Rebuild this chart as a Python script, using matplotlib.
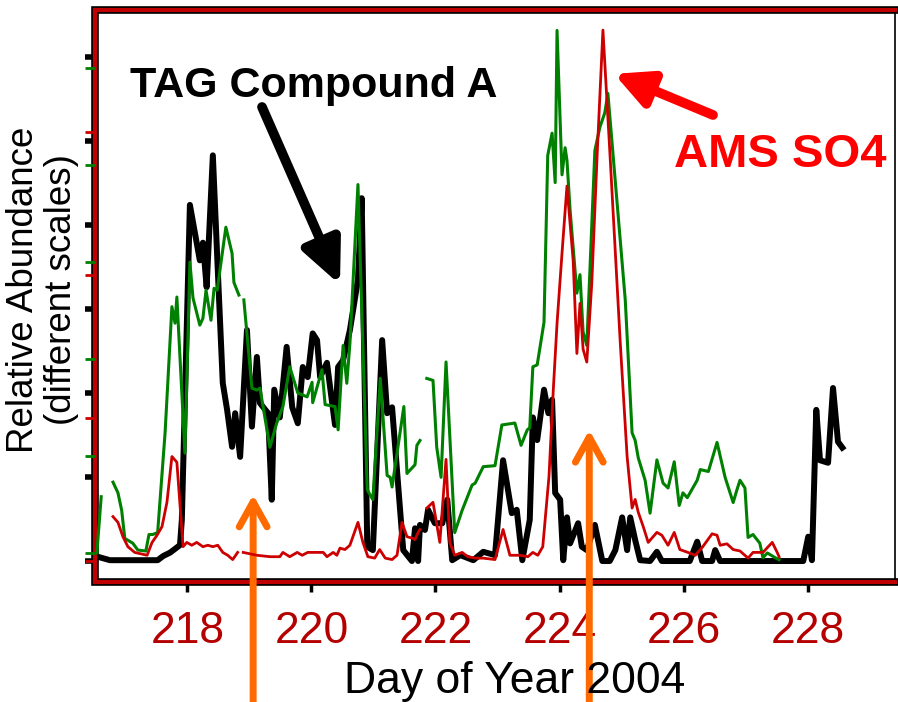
import matplotlib.pyplot as plt
import numpy as np

plt.rcParams['font.family'] = ['Liberation Sans', 'DejaVu Sans']

nan = np.nan

# TAG Compound A (black) - day of year and relative abundance
tag_day = [216.56, 216.75, 217.52, 217.61, 217.72, 217.81, 217.88, 217.91, 218.04, 218.20,
           218.25, 218.31, 218.41, 218.49, 218.57, 218.64, 218.72, 218.77, 218.85, 218.96,
           219.04, 219.12, 219.17, 219.30, 219.36, 219.40, 219.49, 219.60, 219.69, 219.78,
           219.86, 219.94, 220.02, 220.09, 220.14, 220.25, 220.38, 220.43, 220.51, 220.62,
           220.75, 220.81, 220.90, 220.99, 221.14, 221.22, 221.30, 221.48, 221.62, 221.67,
           221.72, 221.75, 221.83, 221.88, 221.99, 222.11, 222.19, 222.27, 222.40, 222.61,
           222.77, 222.96, 223.09, 223.23, 223.31, 223.40, 223.52, 223.57, 223.64, 223.75,
           223.82, 223.88, 223.93, 224.01, 224.06, 224.12, 224.17, 224.30, 224.36, 224.44,
           224.57, 224.69, 224.81, 224.90, 225.01, 225.09, 225.14, 225.22, 225.30, 225.46,
           225.57, 225.65, 226.10, 226.22, 226.30, 226.46, 226.51, 226.59, 227.93, 228.01,
           228.07, 228.14, 228.20, 228.33, 228.41, 228.49, 228.56]
tag_val = [0.05, 0.01, 0.01, 0.06, 0.10, 0.15, 0.19, 0.49, 4.24, 3.58,
           3.79, 3.26, 4.83, 3.46, 2.12, 1.80, 1.36, 1.76, 1.24, 2.75,
           1.60, 2.43, 1.88, 1.76, 0.73, 2.04, 1.71, 2.55, 1.83, 1.64,
           2.31, 2.19, 2.71, 2.63, 2.19, 2.36, 1.62, 2.31, 2.39, 2.75,
           3.35, 4.32, 0.17, 0.13, 2.63, 1.76, 1.83, 0.13, 0.00, 0.39,
           0.00, 0.43, 0.37, 0.61, 0.45, 0.45, 0.73, 0.01, 0.07, 0.01,
           0.11, 0.07, 1.20, 0.57, 0.61, 0.01, 0.49, 1.71, 1.44, 2.04,
           1.76, 1.92, 0.81, 0.73, 0.01, 0.52, 0.21, 0.45, 0.17, 0.13,
           0.43, 0.00, 0.00, 0.13, 0.52, 0.13, 0.52, 0.25, 0.01, 0.00,
           0.11, 0.00, 0.00, 0.23, 0.00, 0.00, 0.13, 0.00, 0.00, 0.29,
           0.01, 1.80, 1.20, 1.17, 2.06, 1.42, 1.35]

# green series
grn_day = [216.54, 216.61, nan, 216.80, 216.88, 216.94, 216.99, 217.12, 217.20, 217.33,
           217.38, 217.44, 217.52, 217.64, 217.75, 217.80, 217.83, 217.96, 218.04, 218.09,
           218.20, 218.25, 218.30, 218.38, 218.43, 218.48, 218.62, 218.72, 218.75, 218.83,
           nan, 218.91, 219.04, 219.12, 219.17, 219.33, 219.44, 219.54, 219.65, 219.78,
           219.93, 220.01, 220.02, 220.17, 220.22, 220.38, 220.43, 220.51, 220.57, 220.62,
           220.75, 220.90, 220.99, 221.11, 221.22, 221.27, 221.30, 221.49, 221.54, 221.67,
           221.70, 221.75, nan, 221.86, 221.96, 222.02, 222.09, 222.17, 222.31, 222.43,
           222.59, 222.64, 222.77, 222.96, 223.07, 223.28, 223.38, 223.48, 223.52, 223.57,
           223.64, 223.75, 223.81, 223.88, 223.93, 223.96, 224.04, 224.09, 224.12, 224.17,
           224.28, 224.33, 224.38, 224.44, 224.57, 224.65, 224.73, 224.78, 225.06, 225.17,
           225.22, 225.27, 225.38, 225.46, 225.57, 225.67, 225.75, 225.85, 225.93, 225.99,
           226.06, 226.22, 226.27, 226.40, 226.54, 226.67, 226.80, 226.86, 226.91, 226.99,
           227.04, 227.12, 227.23, 227.28, 227.35, 227.48, 227.54]
grn_val = [0.00, 0.58, nan, 0.73, 0.62, 0.44, 0.15, 0.10, 0.03, 0.02,
           0.19, 0.19, 0.21, 1.24, 2.54, 2.37, 2.64, 1.03, 3.00, 2.63,
           2.35, 2.42, 2.71, 2.40, 2.73, 2.71, 3.36, 3.09, 2.79, 2.66,
           nan, 2.61, 1.70, 1.68, 1.70, 1.09, 1.34, 1.51, 1.92, 1.65,
           1.61, 1.76, 1.55, 1.89, 1.53, 1.51, 1.27, 2.14, 1.75, 2.16,
           3.80, 0.65, 0.55, 1.80, 0.80, 0.78, 0.68, 1.51, 0.82, 0.91,
           1.11, 1.16, nan, 1.80, 1.78, 1.09, 0.78, 1.97, 0.21, 0.44,
           0.70, 0.72, 0.89, 0.90, 1.32, 1.34, 1.11, 1.27, 1.29, 1.92,
           1.94, 2.38, 4.10, 4.33, 3.82, 5.39, 3.90, 4.18, 4.05, 3.54,
           2.68, 2.87, 2.28, 2.14, 4.15, 4.39, 4.54, 4.74, 2.61, 1.24,
           1.16, 0.98, 0.75, 0.41, 0.96, 0.72, 0.67, 0.94, 0.49, 0.62,
           0.57, 0.75, 0.86, 0.84, 1.14, 0.78, 0.52, 0.65, 0.75, 0.67,
           0.16, 0.19, 0.10, -0.05, 0.00, -0.05, -0.07]

# AMS SO4 (red)
so4_day = [216.56, nan, 216.80, 216.88, 216.96, 217.04, 217.15, 217.35, 217.43, 217.51,
           217.59, 217.67, 217.75, 217.83, 217.93, 217.99, 218.07, 218.15, 218.25, 218.33,
           218.41, 218.49, 218.57, 218.65, 218.73, 218.81, nan, 218.90, 219.12, 219.33,
           219.49, 219.54, 219.65, 219.77, 219.85, 219.94, 220.06, 220.19, 220.25, 220.35,
           220.41, 220.46, 220.54, 220.62, 220.75, 220.83, 220.91, 221.02, 221.10, 221.19,
           221.30, 221.38, 221.46, 221.54, 221.62, 221.67, 221.72, 221.75, nan, 221.86,
           221.96, 222.07, 222.17, 222.23, 222.31, 222.43, 222.52, 222.64, 222.77, 222.96,
           223.09, 223.20, 223.36, 223.49, 223.57, 223.65, 223.73, 223.83, 223.90, 223.96,
           224.04, 224.12, 224.22, 224.28, 224.33, 224.38, 224.44, 224.52, 224.61, 224.70,
           224.81, 224.98, 225.09, 225.17, 225.22, 225.27, 225.35, 225.43, 225.57, 225.65,
           225.75, 225.85, 225.94, 226.07, 226.19, 226.31, 226.46, 226.54, 226.59, 226.70,
           226.80, 226.91, 227.04, 227.12, 227.28, 227.43, 227.51, 227.54]
so4_val = [0.09, nan, 0.31, 0.27, 0.17, 0.10, 0.06, 0.04, 0.13, 0.18,
           0.24, 0.41, 0.73, 0.69, 0.10, 0.13, 0.11, 0.13, 0.10, 0.11,
           0.10, 0.11, 0.06, 0.04, 0.01, 0.06, nan, 0.06, 0.04, 0.03,
           0.03, 0.06, 0.03, 0.06, 0.04, 0.06, 0.06, 0.06, 0.03, 0.06,
           0.04, 0.09, 0.08, 0.11, 0.27, 0.13, 0.03, 0.02, 0.08, 0.02,
           0.01, 0.04, 0.27, 0.17, 0.16, 0.15, 0.20, 0.22, nan, 0.37,
           0.41, 0.13, 0.71, 0.13, 0.04, 0.06, 0.03, 0.02, 0.02, 0.01,
           0.22, 0.04, 0.04, 0.03, 0.06, 0.04, 0.10, 0.59, 1.20, 1.66,
           2.15, 2.62, 2.10, 1.45, 1.80, 1.48, 1.39, 1.94, 2.87, 3.71,
           2.87, 1.52, 0.73, 0.37, 0.43, 0.34, 0.24, 0.13, 0.20, 0.18,
           0.11, 0.20, 0.08, 0.06, 0.04, 0.10, 0.19, 0.18, 0.11, 0.12,
           0.08, 0.07, 0.02, 0.06, 0.06, 0.13, 0.06, 0.03]

day_ticks = [218, 220, 222, 224, 226, 228]

dark_red = '#b40000'
frame_red = '#c00000'
green = '#008000'
red = '#cc0000'
orange = '#ff6a00'

fig = plt.figure(figsize=(8.98, 7.02), dpi=100)
ax = fig.add_axes([0.1058, 0.1709, 0.8909, 0.8148])
ax_g = ax.twinx()
ax_r = ax.twinx()

ax.plot(tag_day, tag_val, color='black', lw=4.3, zorder=3)
ax_g.plot(grn_day, grn_val, color=green, lw=2.2)
ax_r.plot(so4_day, so4_val, color=red, lw=2.0)

ax.set_xlim(216.51, 229.41)
ax.set_ylim(-0.25, 6.56)
ax_g.set_ylim(-0.30, 5.60)
ax_r.set_ylim(-0.147, 3.85)

# three unlabelled y scales, all ticked on the left
ax.set_yticks(range(0, 7))
ax_g.set_yticks(range(0, 6))
ax_r.set_yticks(range(0, 4))
for a, c, w in [(ax, 'black', 4.0), (ax_g, green, 2.0), (ax_r, red, 2.0)]:
    a.yaxis.tick_left()
    a.tick_params(axis='y', direction='out', length=7, width=w, color=c,
                  labelleft=False, labelright=False)
for a in (ax_g, ax_r):
    for s in a.spines.values():
        s.set_visible(False)

ax.set_xticks(day_ticks)
ax.tick_params(axis='x', direction='out', length=7, width=2.5, color='black',
               labelsize=32, labelcolor=dark_red, pad=14)

# red frame with a black outline, thin black right edge
ax.plot([1, 0, 0, 1], [0, 0, 1, 1], transform=ax.transAxes, color='black',
        lw=5.5, clip_on=False, solid_joinstyle='miter', zorder=5)
for side in ['left', 'top', 'bottom']:
    ax.spines[side].set_color(frame_red)
    ax.spines[side].set_linewidth(3)
    ax.spines[side].set_zorder(6)
ax.spines['right'].set_color('black')
ax.spines['right'].set_linewidth(1.2)

fig.text(515 / 898, 1 - 693 / 702, 'Day of Year 2004', ha='center',
         va='baseline', fontsize=32)
fig.text(0.047, 0.587, 'Relative Abundance\n(different scales)', rotation=90,
         ha='center', va='center', multialignment='center', fontsize=26.5,
         linespacing=1.1)

fig.text(130 / 898, 1 - 97 / 702, 'TAG Compound A', fontsize=31,
         fontweight='bold', va='baseline')
fig.text(674 / 898, 1 - 167 / 702, 'AMS SO4', fontsize=34,
         fontweight='bold', color='#ff0000', va='baseline')

ax.annotate('', xy=(220.46, 3.29), xycoords='data',
            xytext=(262, 595), textcoords='figure pixels',
            arrowprops=dict(arrowstyle='-|>,head_length=2.6,head_width=1.2',
                            color='black', lw=7, mutation_scale=10,
                            shrinkA=0, shrinkB=0))
ax.annotate('', xy=(224.88, 5.80), xycoords='data',
            xytext=(713, 587), textcoords='figure pixels',
            arrowprops=dict(arrowstyle='-|>,head_length=2.2,head_width=1.1',
                            color='#ff0000', lw=7, mutation_scale=10,
                            shrinkA=0, shrinkB=0))

# event markers rising from below the axis
for x_ev, y_ev in [(219.06, 0.79), (224.48, 1.56)]:
    ax.annotate('', xy=(x_ev, y_ev), xycoords='data',
                xytext=(x_ev, -10), textcoords=('data', 'figure pixels'),
                annotation_clip=False,
                arrowprops=dict(arrowstyle='->,head_length=1.8,head_width=1.0',
                                color=orange, lw=5, mutation_scale=10,
                                shrinkA=0, shrinkB=0, capstyle='round'),
                zorder=7)

fig.savefig('out.png', dpi=100)
